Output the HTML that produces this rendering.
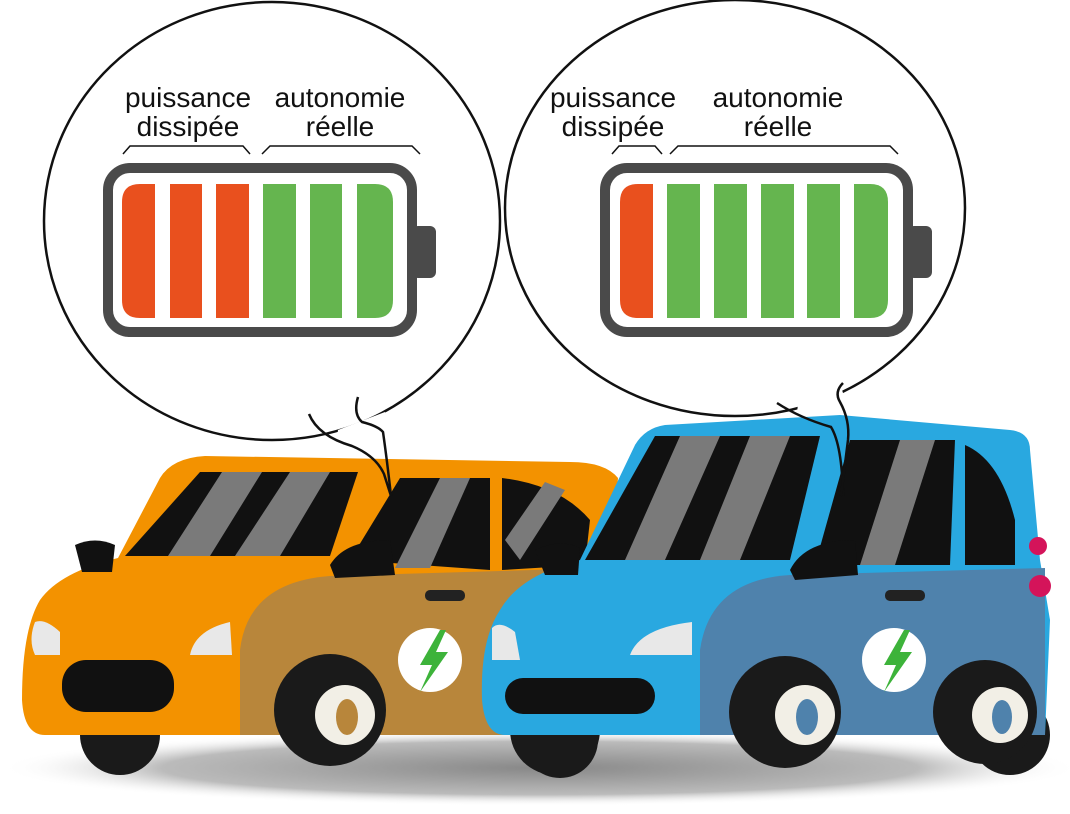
<!DOCTYPE html>
<html><head><meta charset="utf-8"><style>
html,body{margin:0;padding:0;background:#fff;width:1070px;height:814px;overflow:hidden}
svg{display:block}
text{font-family:"Liberation Sans",sans-serif;font-size:28px;fill:#111}
</style></head><body>
<svg width="1070" height="814" viewBox="0 0 1070 814">
<defs>
<radialGradient id="sh" cx="50%" cy="50%" r="50%">
<stop offset="0" stop-color="#888"/><stop offset="0.7" stop-color="#bbb"/><stop offset="1" stop-color="#fff" stop-opacity="0"/>
</radialGradient>
</defs>
<ellipse cx="540" cy="768" rx="540" ry="38" fill="url(#sh)"/>

<ellipse cx="272" cy="221" rx="228" ry="219" fill="#fff" stroke="#111" stroke-width="2.5"/>
<path d="M336,448 L338,430 L385,412 L392,428 L360,448 Z" fill="#fff"/>
<ellipse cx="735" cy="208" rx="230" ry="208" fill="#fff" stroke="#111" stroke-width="2.5"/>
<path d="M796,422 L798,404 L840,384 L846,402 L820,422 Z" fill="#fff"/>

<text x="188" y="107" text-anchor="middle">puissance</text>
<text x="188" y="136" text-anchor="middle">dissipée</text>
<text x="340" y="107" text-anchor="middle">autonomie</text>
<text x="340" y="136" text-anchor="middle">réelle</text>
<path d="M123,154 L130,146 L243,146 L250,154 M262,154 L270,146 L412,146 L420,154" fill="none" stroke="#111" stroke-width="1.5"/>
<text x="613" y="107" text-anchor="middle">puissance</text>
<text x="613" y="136" text-anchor="middle">dissipée</text>
<text x="778" y="107" text-anchor="middle">autonomie</text>
<text x="778" y="136" text-anchor="middle">réelle</text>
<path d="M612,154 L619,146 L655,146 L662,154 M670,154 L678,146 L890,146 L898,154" fill="none" stroke="#111" stroke-width="1.5"/>

<rect x="108" y="168" width="304" height="164" rx="22" fill="#fff" stroke="#4a4a4a" stroke-width="10"/>
<rect x="412" y="226" width="24" height="52" rx="6" fill="#4a4a4a"/>
<path d="M140,184 L155,184 L155,318 L140,318 Q122,318 122,300 L122,202 Q122,184 140,184 Z" fill="#e9501e"/>
<rect x="170" y="184" width="32" height="134" fill="#e9501e"/>
<rect x="216" y="184" width="33" height="134" fill="#e9501e"/>
<rect x="263" y="184" width="33" height="134" fill="#65b54f"/>
<rect x="310" y="184" width="32" height="134" fill="#65b54f"/>
<path d="M357,184 L375,184 Q393,184 393,202 L393,300 Q393,318 375,318 L357,318 Z" fill="#65b54f"/>
<rect x="605" y="168" width="303" height="164" rx="22" fill="#fff" stroke="#4a4a4a" stroke-width="10"/>
<rect x="908" y="226" width="24" height="52" rx="6" fill="#4a4a4a"/>
<path d="M638,184 L653,184 L653,318 L638,318 Q620,318 620,300 L620,202 Q620,184 638,184 Z" fill="#e9501e"/>
<rect x="667" y="184" width="33" height="134" fill="#65b54f"/>
<rect x="714" y="184" width="33" height="134" fill="#65b54f"/>
<rect x="761" y="184" width="33" height="134" fill="#65b54f"/>
<rect x="807" y="184" width="33" height="134" fill="#65b54f"/>
<path d="M854,184 L870,184 Q888,184 888,202 L888,300 Q888,318 870,318 L854,318 Z" fill="#65b54f"/>

<!-- ORANGE CAR -->
<circle cx="120" cy="735" r="40" fill="#1a1a1a"/>
<circle cx="555" cy="730" r="45" fill="#1a1a1a"/>
<path d="M40,600 Q22,630 22,700 Q24,735 45,735 L600,735 L612,560 L618,478 Q605,462 570,462 L205,456 Q172,458 160,478 L118,558 Q60,572 40,600 Z" fill="#f39200"/>
<path d="M125,556 L200,472 L358,472 L330,556 Z" fill="#111"/>
<path d="M168,556 L222,472 L262,472 L210,556 Z M235,556 L290,472 L330,472 L280,556 Z" fill="#7a7a7a"/>
<path d="M350,560 L400,478 L490,478 L490,570 Z" fill="#111"/>
<path d="M395,568 L440,478 L470,478 L430,568 Z" fill="#7a7a7a"/>
<path d="M502,478 Q560,485 590,520 L585,565 L502,570 Z" fill="#111"/>
<path d="M505,540 L545,482 L565,490 L520,560 Z" fill="#7a7a7a"/>
<path d="M240,650 Q248,582 330,576 L600,568 L600,735 L240,735 Z" fill="#b8863b"/>
<rect x="62" y="660" width="112" height="52" rx="24" fill="#111"/>
<path d="M35,622 Q45,618 60,632 L60,655 L35,655 Q28,640 35,622 Z" fill="#e8e8e8"/>
<path d="M190,655 Q195,630 230,622 L232,655 Z" fill="#e8e8e8"/>
<path d="M75,545 Q95,536 115,545 L112,572 L82,572 Z" fill="#111"/>
<path d="M330,565 Q345,540 390,540 L395,575 L335,578 Z" fill="#111"/>
<rect x="425" y="590" width="40" height="11" rx="5" fill="#222"/>
<circle cx="430" cy="660" r="32" fill="#fff"/>
<path d="M440,630 L420,665 L432,665 L420,692 L448,652 L436,652 L446,630 Z" fill="#3db33a"/>
<circle cx="330" cy="710" r="56" fill="#1a1a1a"/>
<circle cx="345" cy="715" r="30" fill="#f2efe6"/>
<ellipse cx="347" cy="717" rx="11" ry="18" fill="#b8863b"/>

<!-- BLUE CAR -->
<circle cx="560" cy="740" r="38" fill="#1a1a1a"/>
<circle cx="1010" cy="735" r="40" fill="#1a1a1a"/>
<path d="M500,610 Q480,640 482,700 Q485,735 505,735 L1045,735 L1050,620 L1040,560 L1030,450 Q1030,432 1010,430 L840,415 L665,425 Q645,428 635,445 L580,560 Q520,575 500,610 Z" fill="#29a8e0"/>
<path d="M585,560 L655,436 L820,436 L790,560 Z" fill="#111"/>
<path d="M625,560 L680,436 L720,436 L665,560 Z M700,560 L750,436 L790,436 L740,560 Z" fill="#7a7a7a"/>
<path d="M815,565 L850,440 L955,440 L950,565 Z" fill="#111"/>
<path d="M860,565 L900,440 L935,440 L895,565 Z" fill="#7a7a7a"/>
<path d="M965,445 Q1000,460 1015,520 L1015,565 L965,565 Z" fill="#111"/>
<path d="M700,650 Q710,580 790,575 L1045,568 L1045,735 L700,735 Z" fill="#4f82ac"/>
<rect x="505" y="678" width="150" height="36" rx="18" fill="#111"/>
<path d="M492,628 Q500,620 515,632 L520,660 L492,660 Z" fill="#e8e8e8"/>
<path d="M630,655 Q640,628 692,622 L692,655 Z" fill="#e8e8e8"/>
<path d="M535,550 Q560,538 580,548 L578,575 L545,575 Z" fill="#111"/>
<path d="M790,570 Q805,540 855,540 L858,575 L795,580 Z" fill="#111"/>
<rect x="885" y="590" width="40" height="11" rx="5" fill="#222"/>
<circle cx="1038" cy="546" r="9" fill="#d4145a"/>
<circle cx="1040" cy="586" r="11" fill="#d4145a"/>
<circle cx="894" cy="660" r="32" fill="#fff"/>
<path d="M904,630 L884,665 L896,665 L884,692 L912,652 L900,652 L910,630 Z" fill="#3db33a"/>
<circle cx="785" cy="712" r="56" fill="#1a1a1a"/>
<circle cx="805" cy="715" r="30" fill="#f2efe6"/>
<ellipse cx="807" cy="717" rx="11" ry="18" fill="#4f82ac"/>
<circle cx="985" cy="712" r="52" fill="#1a1a1a"/>
<circle cx="1000" cy="715" r="28" fill="#f2efe6"/>
<ellipse cx="1002" cy="717" rx="10" ry="17" fill="#4f82ac"/>

<!-- tails -->
<g fill="none" stroke="#111" stroke-width="2.5">
<path d="M309,414 Q318,436 352,446 Q376,456 384,474 L391,496"/>
<path d="M358,397 Q353,414 362,422 Q378,426 383,432 Q387,460 391,496"/>
<path d="M777,403 Q800,418 831,427 Q842,445 843,496"/>
<path d="M843,383 Q834,392 840,402 Q850,420 848,440 L841,496"/>
</g>
</svg>
</body></html>
